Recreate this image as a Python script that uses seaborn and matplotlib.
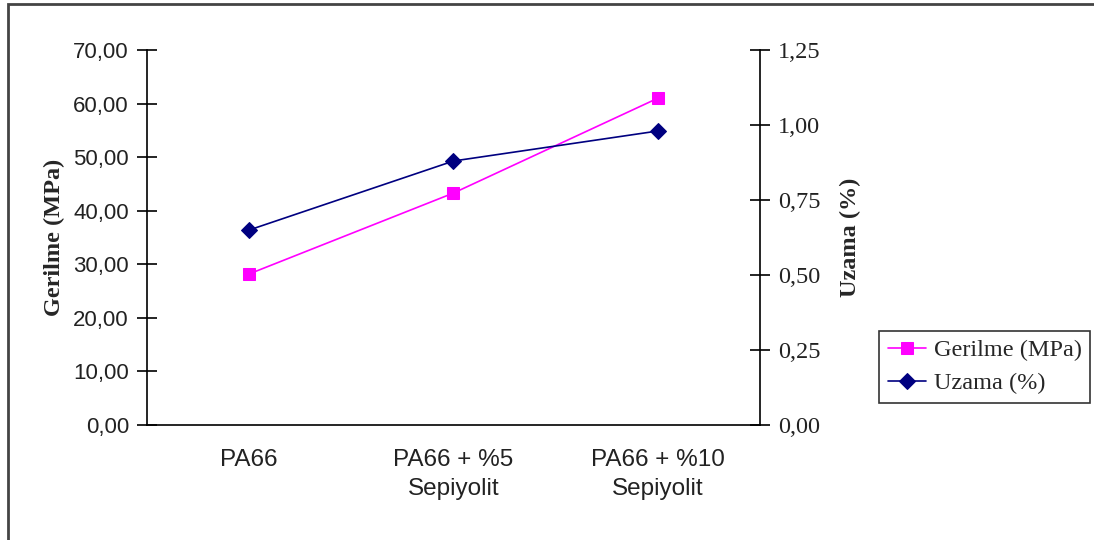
import matplotlib
matplotlib.use("Agg")
import matplotlib.pyplot as plt
import seaborn as sns
import pandas as pd
from matplotlib.patches import Rectangle
from matplotlib.ticker import FuncFormatter, MultipleLocator

categories = ["PA66", "PA66 + %5\nSepiyolit", "PA66 + %10\nSepiyolit"]
gerilme = [28.2, 43.3, 61.0]
uzama = [0.65, 0.88, 0.98]
left_label = "Gerilme (MPa)"
right_label = "Uzama (%)"
legend_labels = ["Gerilme (MPa)", "Uzama (%)"]

sns.set_style("white")
plt.rcParams["font.family"] = ["Liberation Sans", "DejaVu Sans"]

W, H = 1094, 540
fig = plt.figure(figsize=(W / 100, H / 100), dpi=100)
ax = fig.add_axes([147 / W, 1 - 425 / H, (760 - 147) / W, (425 - 50) / H])
ax2 = ax.twinx()

df = pd.DataFrame({"cat": categories, "g": gerilme, "u": uzama})

sns.lineplot(data=df, x="cat", y="g", ax=ax, color="#FF00FF", marker="s",
             markersize=9, markeredgecolor="#FF00FF", linewidth=1.2, sort=False,
             label=legend_labels[0], legend=False)
sns.lineplot(data=df, x="cat", y="u", ax=ax2, color="#000080", marker="D",
             markersize=8, markeredgecolor="#000080", linewidth=1.2, sort=False,
             label=legend_labels[1], legend=False)

ax.set_xlim(-0.5, 2.5)
ax.set_ylim(0, 70)
ax2.set_ylim(0, 1.25)
ax.yaxis.set_major_locator(MultipleLocator(10))
ax2.yaxis.set_major_locator(MultipleLocator(0.25))
ax.yaxis.set_major_formatter(FuncFormatter(lambda v, p: f"{v:.2f}".replace(".", ",")))
ax2.yaxis.set_major_formatter(FuncFormatter(lambda v, p: f"{v:.2f}".replace(".", ",")))

# x ticks between categories (cross ticks), labels at centers
ax.set_xticks([-0.5, 0.5, 1.5, 2.5])
ax.set_xticklabels([])
ax.set_xticks([0, 1, 2], minor=True)
ax.set_xticklabels(categories, minor=True, fontsize=17.5, family=["Liberation Sans"],
                   color="#222222", linespacing=1.45)
ax.tick_params(axis="x", which="minor", length=0, pad=17)
ax.tick_params(axis="x", which="major", direction="inout", length=14, width=1.2, color="black")

ax.tick_params(axis="y", direction="inout", length=14, width=1.2, color="black",
               labelsize=16, labelcolor="#222222", pad=6)
ax2.tick_params(axis="y", direction="inout", length=14, width=1.2, color="black",
                labelsize=17.5, labelcolor="#222222", pad=6)
for t in ax2.get_yticklabels():
    t.set_family(["Liberation Serif"])

ax.set_xlabel("")
ax.set_ylabel(left_label, fontsize=17.5, fontweight="bold", family=["Liberation Serif"], labelpad=6)
ax2.set_ylabel(right_label, fontsize=17.5, fontweight="bold", family=["Liberation Serif"], labelpad=14)

for a in (ax, ax2):
    a.grid(False)
    a.spines["top"].set_visible(False)
    for s in ("left", "right", "bottom"):
        a.spines[s].set_color("black")
        a.spines[s].set_linewidth(1.2)
ax.spines["right"].set_visible(False)
ax2.spines["left"].set_visible(False)
ax2.spines["bottom"].set_visible(False)

handles = ax.get_lines()[:1] + ax2.get_lines()[:1]
leg = fig.legend(handles, legend_labels, loc="upper left",
                 bbox_to_anchor=(879 / W, 1 - 331 / H), frameon=True, fancybox=False,
                 prop={"family": "Liberation Serif", "size": 17.5}, handlelength=1.6,
                 borderpad=0.35, labelspacing=0.45, handletextpad=0.3, borderaxespad=0)
leg.get_frame().set_edgecolor("black")
leg.get_frame().set_linewidth(1.2)

fig.patches.append(Rectangle((8 / W, -0.1), 1.5, 1 - 4.5 / H + 0.1, transform=fig.transFigure,
                             fill=False, edgecolor="#444444", linewidth=2, figure=fig))

fig.savefig("out.png", dpi=100)
